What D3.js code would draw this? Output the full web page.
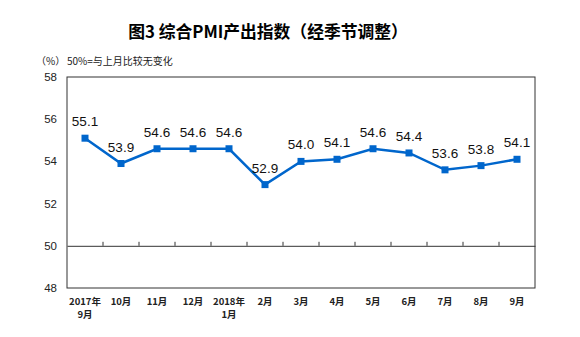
<!DOCTYPE html>
<html><head><meta charset="utf-8">
<script src="https://cdn.jsdelivr.net/npm/d3@7"></script>
<style>body{margin:0;background:#fff}svg{display:block}</style>
</head><body>
<svg id="c" width="580" height="337"></svg>
<script>
const categories = [["2017年","9月"],["10月"],["11月"],["12月"],["2018年","1月"],["2月"],["3月"],["4月"],["5月"],["6月"],["7月"],["8月"],["9月"]];
const values = [55.1,53.9,54.6,54.6,54.6,52.9,54.0,54.1,54.6,54.4,53.6,53.8,54.1];
const yTicks = [48,50,52,54,56,58];
const title = "图3 综合PMI产出指数（经季节调整）";
const unitLabel = "（%）";
const subtitle = "50%=与上月比较无变化";

const svg = d3.select("#c");
const m = {l:67, t:77, r:535, b:288};
const x = d3.scaleBand().domain(d3.range(categories.length)).range([m.l, m.r]);
const y = d3.scaleLinear().domain([48,58]).range([m.b, m.t]);
const cjk = "'Noto Sans CJK SC', sans-serif";

svg.append("text").attr("x", 268).attr("y", 38).attr("text-anchor","middle")
  .attr("font-family", cjk).attr("font-weight","bold").attr("font-size",16.8).attr("fill","#000").text(title);
svg.append("text").attr("x", 36).attr("y", 65)
  .attr("font-family", cjk).attr("font-size",10).attr("fill","#222").text(unitLabel);
svg.append("text").attr("x", 67).attr("y", 65)
  .attr("font-family", cjk).attr("font-size",10).attr("fill","#222").text(subtitle);

// frame
svg.append("rect").attr("x",m.l).attr("y",m.t).attr("width",m.r-m.l).attr("height",m.b-m.t)
  .attr("fill","none").attr("stroke","#333").attr("stroke-width",1);

// y axis labels
svg.append("g").selectAll("text").data(yTicks).join("text")
  .attr("x", 57).attr("y", d=>y(d)+4).attr("text-anchor","end")
  .attr("font-family","'Liberation Sans', Arial, sans-serif").attr("font-size",11.5).attr("fill","#222").text(d=>d);

// axis at 50 with ticks between categories
const ax = svg.append("g").attr("transform",`translate(0,${y(50)})`)
  .call(d3.axisTop(x).tickSize(0).tickFormat(""));
ax.select(".domain").attr("stroke","#333");
ax.selectAll(".boundary").data(d3.range(1,categories.length)).join("line")
  .attr("x1", i=>x(i)).attr("x2", i=>x(i)).attr("y1",0).attr("y2",-4).attr("stroke","#333");

// x labels (one text per line)
const lines = [];
categories.forEach((c,i)=>c.forEach((t,j)=>lines.push({i,j,t})));
svg.append("g").selectAll("text").data(lines).join("text")
  .attr("x",d=>x(d.i)+x.bandwidth()/2).attr("y",d=>305+d.j*13).attr("text-anchor","middle")
  .attr("font-family", cjk).attr("font-size",9.5).attr("font-weight","bold").attr("fill","#222")
  .text(d=>d.t);

// line
const cx = i=>x(i)+x.bandwidth()/2;
svg.append("path").datum(values)
  .attr("d", d3.line().x((d,i)=>cx(i)).y(d=>y(d)))
  .attr("fill","none").attr("stroke","#0066cc").attr("stroke-width",2.5);
svg.append("g").selectAll("rect").data(values).join("rect")
  .attr("x",(d,i)=>cx(i)-3.5).attr("y",d=>y(d)-3.5).attr("width",7).attr("height",7).attr("fill","#0066cc");

svg.append("g").selectAll("text").data(values).join("text")
  .attr("x",(d,i)=>cx(i)).attr("y",d=>y(d)-12).attr("text-anchor","middle")
  .attr("font-family","'Liberation Sans', Arial, sans-serif").attr("font-size",13.5).attr("fill","#111")
  .text(d=>d.toFixed(1));
</script>
</body></html>
